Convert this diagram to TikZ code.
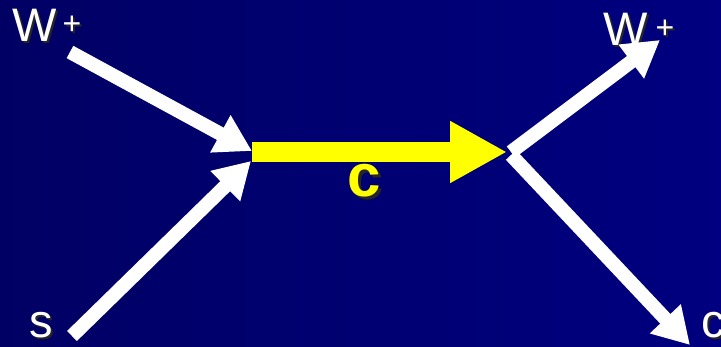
\documentclass[tikz,border=0pt]{standalone}
\usepackage{fontspec}
\setmainfont{Liberation Sans}
\usepackage{xcolor}
\usetikzlibrary{arrows.meta}

\definecolor{bgleft}{RGB}{0,0,100}
\definecolor{bgright}{RGB}{0,0,128}
\definecolor{quarkyellow}{RGB}{255,255,0}

% text with a dark drop shadow
\newcommand{\shadowed}[3][2pt]{\leavevmode\rlap{\kern#1\raisebox{-#1}{\color{black!85}#3}}{\color{#2}#3}}
% W boson with raised plus
\newcommand{\wplus}[1]{W\kern#1\raisebox{7pt}{\fontsize{32}{32}\selectfont +}}

\begin{document}
\begin{tikzpicture}[
  x=1pt, y=-1pt,
  lbl/.style={inner sep=0pt, font=\fontsize{47}{50}\selectfont},
  quark/.style={inner sep=0pt, font=\bfseries\fontsize{60}{60}\selectfont},
  leg/.style={-{Triangle[length=36pt,width=40pt]}, line width=14pt, draw=white},
  prop/.style={-{Triangle[length=57pt,width=58pt]}, line width=20pt, draw=quarkyellow}
]
\useasboundingbox (0,0) rectangle (721,347);
\fill[left color=bgleft, right color=bgright] (0,0) rectangle (721,347);

% vertices and free ends
\coordinate (V1) at (252,152);
\coordinate (V2) at (507,152);
\coordinate (Win) at (70,52);
\coordinate (Sin) at (72,336);
\coordinate (Win1) at (252,151);
\coordinate (Sin1) at (251,161);
\coordinate (Out1) at (511,152);
\coordinate (Out2) at (511,155);
\coordinate (Wout) at (660,40);
\coordinate (Cout) at (690,345);

% labels
\node[lbl, anchor=base west] (Wl) at (12,42) {\shadowed{white}{\wplus{6pt}}};
\node[lbl, anchor=base west] (Wr) at (603,46) {\shadowed{white}{\wplus{8pt}}};
\node[lbl, anchor=base west] (S) at (29,338) {\shadowed{white}{s}};
\node[lbl, anchor=base west] (C) at (701,338) {\shadowed{white}{c}};
\node[quark, anchor=base] (Cq) at (364,197) {\shadowed[3pt]{quarkyellow}{c}};

\draw[leg] (Win) -- (Win1);
\draw[leg] (Sin) -- (Sin1);
\draw[leg] (Out1) -- (Wout);
\draw[leg] (Out2) -- (Cout);
\draw[prop] (V1) -- (V2);
\end{tikzpicture}
\end{document}
